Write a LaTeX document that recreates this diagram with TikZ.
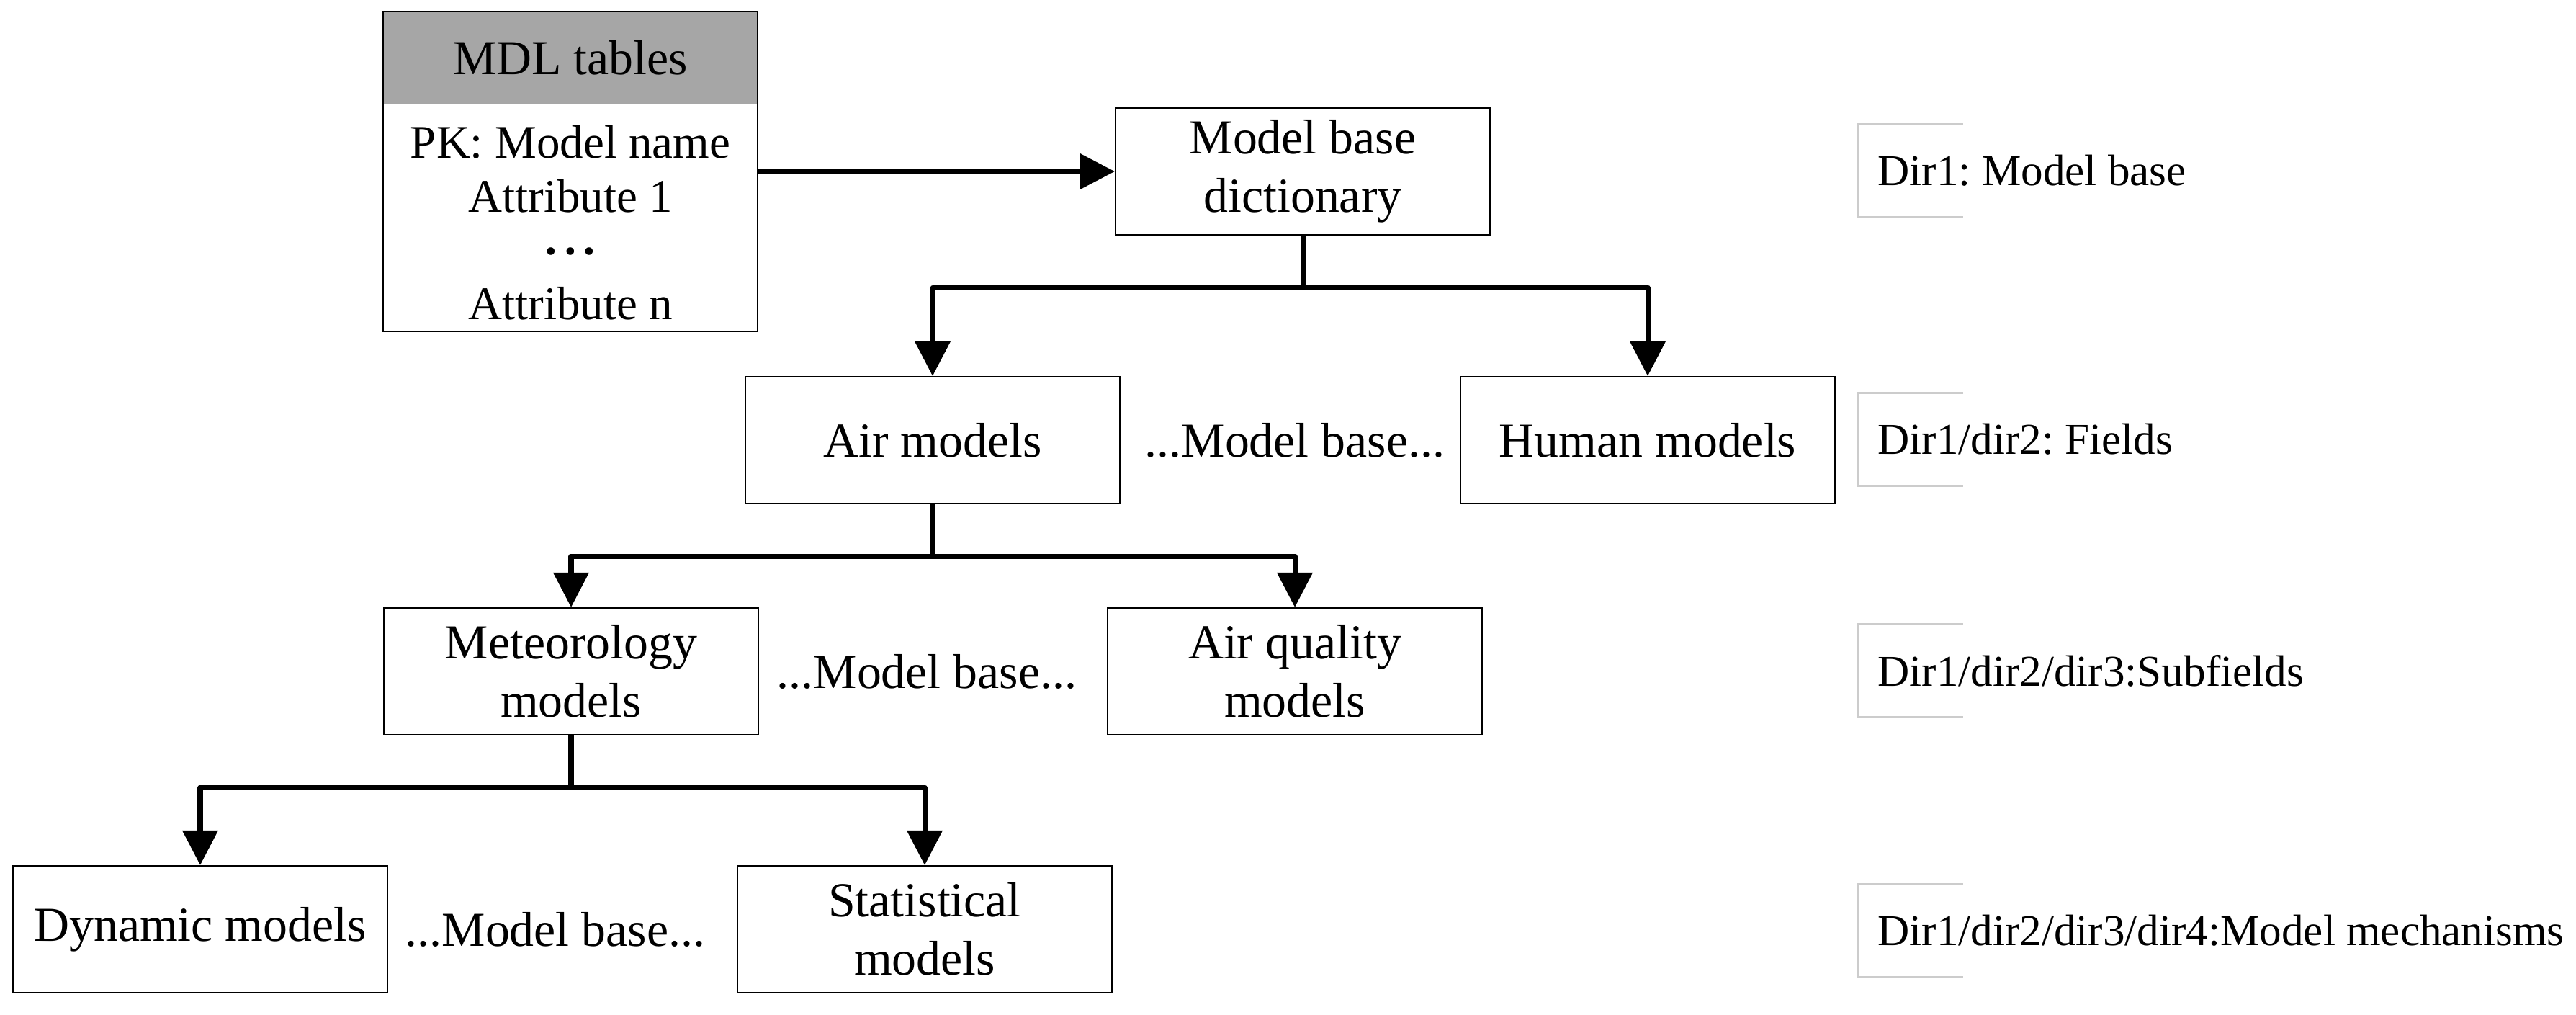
\documentclass[tikz,border=0pt]{standalone}
\usepackage{fontspec}
\setmainfont{Liberation Serif}
\usetikzlibrary{arrows.meta}
\definecolor{hdrgray}{RGB}{166,166,166}
\definecolor{brgray}{RGB}{204,204,204}
\frenchspacing
\begin{document}
\begin{tikzpicture}[
        box/.style={draw, line width=0.6pt, minimum width=5.2cm, minimum height=1.76cm,
            align=center, inner sep=1pt, font=\fontsize{19.3}{23}\selectfont},
        txt/.style={inner sep=0pt, font=\fontsize{19.3}{23}\selectfont},
        dirtxt/.style={anchor=west, inner sep=0pt, font=\fontsize{17.4}{21}\selectfont},
        conn/.style={line width=2pt, line join=round, -{Triangle[length=0.48cm, width=0.48cm]}}
    ]
        \useasboundingbox (0,0) rectangle (35.77,-14.08);

        \fill[hdrgray] (5.32,-0.16) rectangle (10.52,-1.45);
        \node[box, minimum height=4.44cm] (mdl) at (7.92,-2.38) {};
        \node[txt] (mdltitle) at (7.92,-0.80) {MDL tables};
        \node[txt, anchor=north, align=center, font=\fontsize{18.5}{21.2}\selectfont] (mdlattr) at (7.92,-1.74)
            {PK: Model name\\Attribute 1\\\raisebox{-0.02cm}{\bfseries ·\kern1.3pt·\kern1.3pt·}\\Attribute n};

        \node[box] (mbd) at (18.09,-2.38) {Model base\\dictionary};
        \node[box] (air) at (12.95,-6.11) {Air models};
        \node[txt] (more1) at (17.98,-6.11) {...Model base...};
        \node[box] (human) at (22.88,-6.11) {Human models};
        \node[box] (meteo) at (7.93,-9.32) {Meteorology\\models};
        \node[txt] (more2) at (12.87,-9.32) {...Model base...};
        \node[box] (airq) at (17.98,-9.32) {Air quality\\models};
        \node[box] (dyn) at (2.78,-12.90) {Dynamic models};
        \node[txt] (more3) at (7.71,-12.90) {...Model base...};
        \node[box] (stat) at (12.84,-12.90) {Statistical\\models};

        \draw[conn] (mdl.east) -- (mbd.west);
        \foreach \a/\b/\c in {mbd/air/human, air/meteo/airq, meteo/dyn/stat} {
            \draw[conn] (\a.south) -- ++(0,-0.72) -| (\b);
            \draw[conn] (\a.south) -- ++(0,-0.72) -| (\c);
        }

        \foreach \y/\t [count=\i] in {-2.37/{Dir1: Model base}, -6.10/{Dir1/dir2: Fields},
                -9.31/{Dir1/dir2/dir3:Subfields}, -12.92/{Dir1/dir2/dir3/dir4:Model mechanisms}} {
            \draw[brgray, line width=0.6pt] (27.26,\y+0.645) -| (25.80,\y-0.645) -- (27.26,\y-0.645);
            \node[dirtxt] (dir\i) at (26.07,\y) {\t};
        }
\end{tikzpicture}
\end{document}
